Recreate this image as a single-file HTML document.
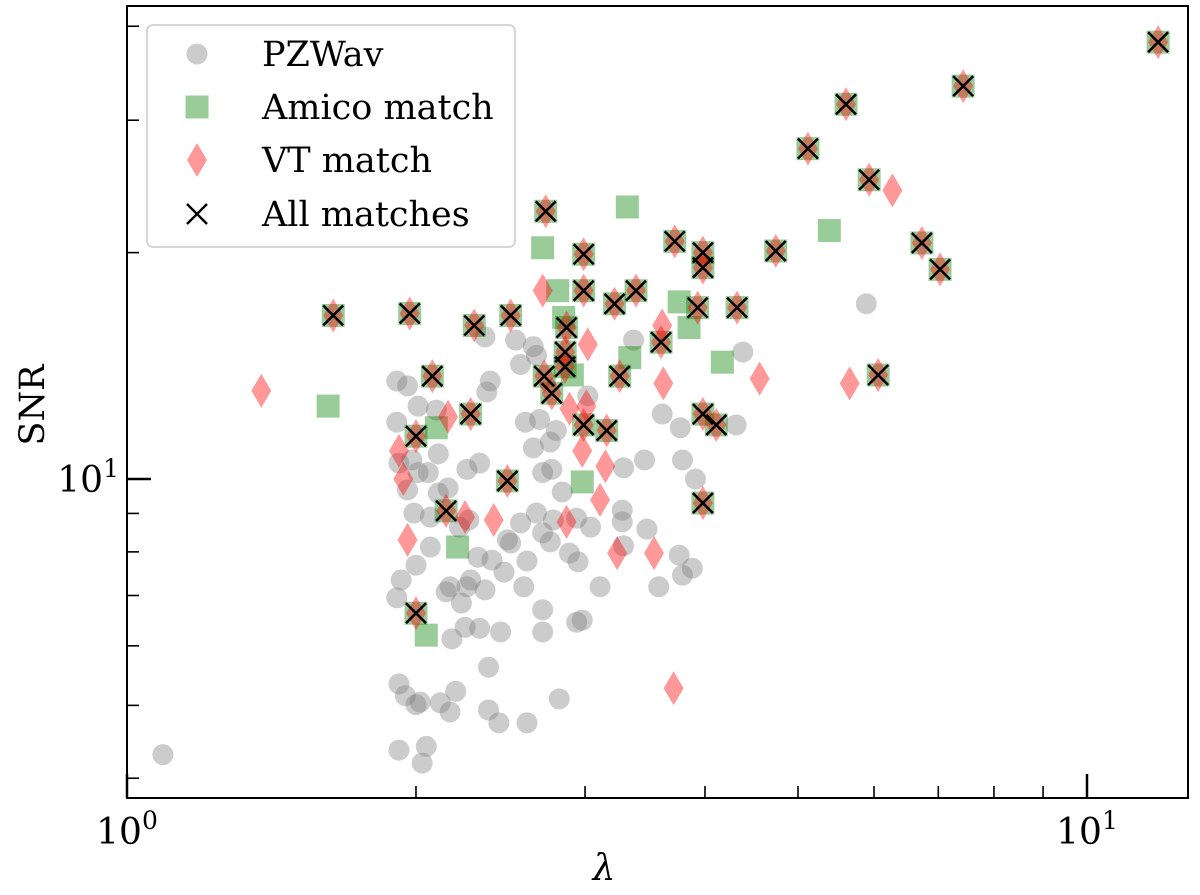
<!DOCTYPE html>
<html><head><meta charset="utf-8"><style>
html,body{margin:0;padding:0;background:#fff;}
svg text{font-family:"DejaVu Serif","Liberation Serif",serif;}
</style></head><body>
<svg id="chart" width="1200" height="890" viewBox="0 0 1200 890" xmlns="http://www.w3.org/2000/svg">
<g id="marks"></g>
<g id="axes"></g>
</svg>
<script>
const pzLambda=[1.09,1.91,1.96,2.01,2.10,1.91,1.92,1.98,2.01,2.06,2.11,1.96,2.11,2.16,1.99,2.07,2.22,2.27,2.26,2.33,2.39,2.37,2.36,2.65,2.67,2.57,2.60,2.69,2.80,2.76,2.65,2.71,2.77,2.84,2.67,2.78,2.94,3.04,2.57,2.71,2.76,2.49,3.02,2.54,3.37,4.38,5.89,3.61,3.77,4.31,3.29,3.46,3.79,3.91,3.28,3.28,3.48,1.93,1.91,2.00,2.07,2.15,2.17,2.26,2.28,2.32,2.40,2.47,2.36,2.23,2.59,2.61,2.51,2.71,2.71,2.94,2.98,2.89,2.95,3.11,3.29,3.58,3.76,3.79,3.88,2.18,2.25,2.33,2.45,2.38,1.92,1.95,2.00,2.02,2.12,2.17,2.20,2.38,2.44,2.61,2.82,1.92,2.05,2.03];
const pzSNR=[4.30,13.5,13.3,12.5,12.35,11.9,10.5,10.6,10.2,10.2,10.8,9.67,9.58,9.73,9.01,8.90,8.63,8.82,10.3,10.5,13.5,13.05,15.45,15.0,14.6,14.2,11.9,12.0,11.6,11.2,11.0,10.2,10.3,9.61,9.01,8.82,8.87,8.63,8.74,8.48,8.25,8.30,12.9,15.3,15.3,14.75,17.1,12.2,11.7,11.8,10.35,10.6,10.6,10.0,9.09,8.77,8.58,7.34,6.95,7.68,8.12,7.08,7.19,7.19,7.34,7.87,7.80,7.52,7.12,6.84,7.19,7.78,8.22,6.70,6.26,6.45,6.49,7.97,7.76,7.19,8.15,7.19,7.92,7.45,7.61,6.13,6.35,6.33,6.26,5.62,5.34,5.15,5.01,5.05,5.04,4.90,5.22,4.93,4.74,4.74,5.10,4.36,4.41,4.19];
const allLambda=[11.86,7.43,5.61,5.12,5.93,2.73,3.72,2.99,3.98,3.98,4.74,6.73,7.03,1.64,1.97,2.30,2.51,2.99,3.22,3.39,3.93,4.32,2.87,2.86,2.86,3.60,2.72,2.08,2.77,3.26,6.06,2.28,2.00,2.99,3.16,3.98,4.11,2.49,2.15,3.98,2.00];
const allSNR=[38.1,33.3,31.5,27.5,25.0,22.7,20.7,19.9,20.0,19.1,20.1,20.6,19.0,16.5,16.6,16.0,16.5,17.8,17.1,17.8,16.9,16.9,15.9,14.75,14.1,15.2,13.7,13.7,13.0,13.7,13.75,12.2,11.4,11.8,11.6,12.2,11.8,9.94,9.07,9.29,6.63];
const amLambda=[1.62,2.10,2.21,2.05,2.71,3.32,5.39,2.81,2.85,2.91,2.98,3.76,3.85,3.34,4.17];
const amSNR=[12.5,11.7,8.12,6.2,20.3,23.0,21.4,17.8,16.4,13.75,9.91,17.2,15.9,14.5,14.3];
const vtLambda=[1.38,1.92,1.94,1.96,2.25,2.41,3.15,3.11,3.24,3.54,3.71,3.62,4.56,5.66,6.27,3.61,3.02,2.71,2.16,2.89,3.01,2.98,2.87];
const vtSNR=[13.1,10.9,10.0,8.30,8.90,8.82,10.4,9.38,7.97,7.97,5.27,13.4,13.6,13.4,24.2,16.0,15.1,17.8,12.1,12.4,12.5,10.9,8.77];
const xTickVals=[1,10];
const xTickLabels=["0","1"];
const yTickVals=[10];
const yTickLabels=["1"];

const X0=127,X1=1188,Y0=6,Y1=798;
const XMIN=1,XMAX=Math.pow(10,(X1-X0)/960);
const YREF=479,YD=752;
function sx(v){return X0+Math.log10(v/XMIN)*960;}
function sy(v){return YREF-Math.log10(v/10)*YD;}
const NS="http://www.w3.org/2000/svg";
const marks=document.getElementById('marks');
const axes=document.getElementById('axes');
function mk(tag,attrs,parent){const e=document.createElementNS(NS,tag);for(const k in attrs)e.setAttribute(k,attrs[k]);parent.appendChild(e);return e;}

const clip=mk('clipPath',{id:'pc'},marks);
mk('rect',{x:X0,y:Y0,width:X1-X0,height:Y1-Y0},clip);
const plot=mk('g',{'clip-path':'url(#pc)'},marks);

function circle(cx,cy,p){return mk('circle',{cx:cx,cy:cy,r:10.5,fill:'#808080','fill-opacity':0.4},p);}
function square(cx,cy,p){return mk('rect',{x:cx-11.5,y:cy-11.5,width:23,height:23,fill:'#008000','fill-opacity':0.4},p);}
function diamond(cx,cy,p){return mk('polygon',{points:`${cx},${cy-17} ${cx+10},${cy} ${cx},${cy+17} ${cx-10},${cy}`,fill:'#ff0000','fill-opacity':0.4},p);}
function cross(cx,cy,p){return mk('path',{d:`M${cx-10},${cy-10}L${cx+10},${cy+10}M${cx-10},${cy+10}L${cx+10},${cy-10}`,stroke:'#000','stroke-width':2.6,fill:'none'},p);}

pzLambda.forEach((v,i)=>{const e=circle(sx(v),sy(pzSNR[i]),plot);

});
amLambda.forEach((v,i)=>{const e=square(sx(v),sy(amSNR[i]),plot);

});
allLambda.forEach((v,i)=>{const e=square(sx(v),sy(allSNR[i]),plot);

});
vtLambda.forEach((v,i)=>{const e=diamond(sx(v),sy(vtSNR[i]),plot);

});
allLambda.forEach((v,i)=>{const e=diamond(sx(v),sy(allSNR[i]),plot);

});
allLambda.forEach((v,i)=>{const e=cross(sx(v),sy(allSNR[i]),plot);

});

const fr=mk('rect',{x:X0,y:Y0,width:X1-X0,height:Y1-Y0,fill:'none',stroke:'#000','stroke-width':2},axes);


for(let d=1;d<=10;d++){for(let m=1;m<10;m++){const v=d===1?m:m*10;if(v>XMAX)continue;const x=sx(v);const major=(m===1);
const t=mk('line',{x1:x,x2:x,y1:Y1,y2:Y1-(major?24:12),stroke:'#000','stroke-width':major?2.5:1.6},axes);

}if(d===1)d=9;}
xTickVals.forEach((v,i)=>{const x=sx(v);const t=mk('text',{x:x,y:Y1+46,'font-size':36,'text-anchor':'middle'},axes);


t.innerHTML='10<tspan dy="-15" font-size="25">'+xTickLabels[i]+'</tspan>';});
const yv=[4,5,6,7,8,9,10,20,30,40];
yv.forEach(v=>{const y=sy(v);if(y<Y0||y>Y1)return;const major=(v===10);
const t=mk('line',{x1:X0,x2:X0+(major?24:12),y1:y,y2:y,stroke:'#000','stroke-width':major?2.5:1.6},axes);

});
yTickVals.forEach((v,i)=>{const t=mk('text',{x:X0-8,y:sy(v)+13,'font-size':36,'text-anchor':'end'},axes);


t.innerHTML='10<tspan dy="-15" font-size="25">'+yTickLabels[i]+'</tspan>';});
</script>
<svg style="position:absolute;left:0;top:0" width="1200" height="890" xmlns="http://www.w3.org/2000/svg">
<text x="604" y="880" font-size="36" font-style="italic" text-anchor="middle" font-family="DejaVu Serif, serif">λ</text>
<text transform="translate(44,405) rotate(-90)" font-size="35" text-anchor="middle" font-family="DejaVu Serif, serif">SNR</text>
<g>
<rect x="147" y="25" width="368" height="222" rx="6" fill="#fff" fill-opacity="0.8" stroke="#d6d6d6" stroke-width="2"/>
<g>
<circle cx="197" cy="54" r="10.5" fill="#808080" fill-opacity="0.4"/>
<text x="262" y="66" font-size="35" font-family="DejaVu Serif, serif">PZWav</text></g>
<g>
<rect x="185.5" y="95.5" width="23" height="23" fill="#008000" fill-opacity="0.4"/>
<text x="262" y="119" font-size="35" font-family="DejaVu Serif, serif">Amico match</text></g>
<g>
<polygon points="197,143 207,160 197,177 187,160" fill="#ff0000" fill-opacity="0.4"/>
<text x="262" y="172" font-size="35" font-family="DejaVu Serif, serif">VT match</text></g>
<g>
<path d="M187,204L207,224M187,224L207,204" stroke="#000" stroke-width="2.4"/>
<text x="262" y="226" font-size="35" font-family="DejaVu Serif, serif">All matches</text></g>
</g>
</svg>
</body></html>
